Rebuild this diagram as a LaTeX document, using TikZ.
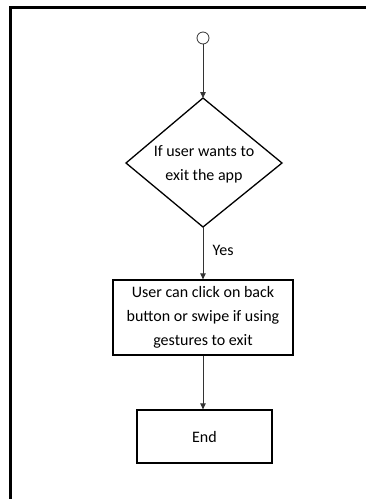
\documentclass[tikz,border=0pt]{standalone}
\usepackage{fontspec}
\setmainfont{Carlito}
\usetikzlibrary{arrows.meta}
\begin{document}
\begin{tikzpicture}[x=1pt,y=-1pt,
  conn/.style={draw=black!80, line width=0.8pt, -{Triangle[length=6pt,width=5.5pt]}},
  shapeline/.style={draw=black, line width=1.3pt},
  txt/.style={font=\fontsize{16}{24}\selectfont, align=center, text=black}]
\useasboundingbox (0,0) rectangle (366,499);
\draw[line width=3pt] (10,520) -- (10,7) -- (380,7);
\node[draw=black!80, line width=0.8pt, circle, minimum size=12pt, inner sep=0pt] (start) at (203,38) {};
\coordinate (dt) at (203,98);
\coordinate (dl) at (126,163);
\coordinate (dr) at (282,163);
\coordinate (db) at (203,227);
\draw[shapeline, line join=miter] (dt) -- (dr) -- (db) -- (dl) -- cycle;
\node[txt] (dec) at (204,164) {If user wants to\\exit the app};
\node[shapeline, minimum width=180pt, minimum height=75pt, inner sep=0pt, txt] (act) at (203,317.5) {User can click on back\\button or swipe if using\\gestures to exit};
\node[shapeline, minimum width=135pt, minimum height=53pt, inner sep=0pt, txt] (end) at (204.5,436.5) {End};
\draw[conn] (start) -- (dt);
\draw[conn] (db) -- node[right, txt, xshift=6pt, pos=0.45] (yes) {Yes} (act.north);
\draw[conn] (act.south) -- (act.south |- end.north);
\end{tikzpicture}
\end{document}
